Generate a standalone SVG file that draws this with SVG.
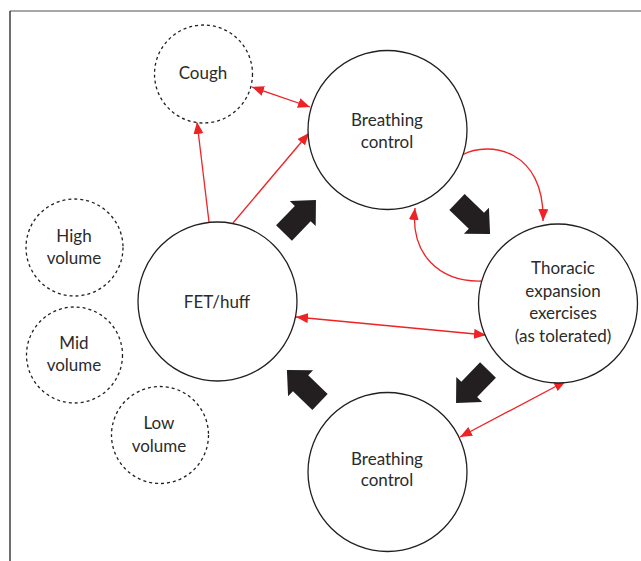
<svg xmlns="http://www.w3.org/2000/svg" width="641" height="561" viewBox="0 0 641 561">
<defs>
<style>
.node{fill:#fff;stroke:#231f20;stroke-width:1.3}
.dash{fill:#fff;stroke:#231f20;stroke-width:1.3;stroke-dasharray:3 3}
.lbl{font-family:Lato,"Open Sans",sans-serif;font-size:17px;fill:#2b2b2b;text-anchor:middle}
.red{fill:none;stroke:#ee2326;stroke-width:1.3}
.blk{fill:#231f20}
</style>
<marker id="ah" viewBox="0 0 12 10" refX="12" refY="5" markerWidth="12" markerHeight="10" markerUnits="userSpaceOnUse" orient="auto-start-reverse">
<path d="M0,0 L12,5 L0,10 z" fill="#ee2326"/>
</marker>
<polygon id="bigarrow" points="0,-11 27,-11 27,-18 46,0 27,18 27,11 0,11"/>
</defs>
<rect width="641" height="561" fill="#fff"/>
<g id="frame">
<line x1="10" y1="11" x2="641" y2="11" stroke="#8a8a8a" stroke-width="1.5"/>
<line x1="10" y1="11" x2="10" y2="561" stroke="#231f20" stroke-width="1.3"/>
</g>
<g id="connectors">
<line class="red" x1="252" y1="87" x2="310" y2="107" marker-start="url(#ah)" marker-end="url(#ah)"/>
<line class="red" x1="209" y1="222" x2="197" y2="122" marker-end="url(#ah)"/>
<line class="red" x1="233" y1="223" x2="309" y2="133" marker-end="url(#ah)"/>
<path class="red" d="M462,155 C490,140 545,150 543,221" marker-end="url(#ah)"/>
<path class="red" d="M481,281 C440,282 410,255 415,208" marker-end="url(#ah)"/>
<line class="red" x1="296" y1="317" x2="486" y2="335" marker-start="url(#ah)" marker-end="url(#ah)"/>
<line class="red" x1="460" y1="437" x2="566" y2="381" marker-start="url(#ah)" marker-end="url(#ah)"/>
</g>
<g id="flow-arrows" class="blk">
<use href="#bigarrow" transform="translate(284,233) rotate(-46)"/>
<use href="#bigarrow" transform="translate(457,202) rotate(44)"/>
<use href="#bigarrow" transform="translate(488,370) rotate(134)"/>
<use href="#bigarrow" transform="translate(320,402) rotate(-136)"/>
</g>
<g id="cough">
<circle class="dash" cx="203.5" cy="74" r="49"/>
<text class="lbl" x="203" y="79">Cough</text>
</g>
<g id="breathing-control-top">
<circle class="node" cx="387.5" cy="130" r="79.5"/>
<text class="lbl" x="387" y="126">Breathing</text>
<text class="lbl" x="387" y="148">control</text>
</g>
<g id="fet-huff">
<circle class="node" cx="217.5" cy="301.5" r="79.5"/>
<text class="lbl" x="217" y="308">FET/huff</text>
</g>
<g id="thoracic">
<circle class="node" cx="558" cy="303.5" r="79.5"/>
<text class="lbl" x="563" y="274">Thoracic</text>
<text class="lbl" x="563" y="297">expansion</text>
<text class="lbl" x="563" y="319">exercises</text>
<text class="lbl" x="563" y="342">(as tolerated)</text>
</g>
<g id="breathing-control-bottom">
<circle class="node" cx="387.5" cy="472" r="79.5"/>
<text class="lbl" x="387" y="465">Breathing</text>
<text class="lbl" x="387" y="486">control</text>
</g>
<g id="high-volume">
<circle class="dash" cx="74.5" cy="247.5" r="48.5"/>
<text class="lbl" x="74" y="242">High</text>
<text class="lbl" x="74" y="264">volume</text>
</g>
<g id="mid-volume">
<circle class="dash" cx="74.5" cy="355" r="48"/>
<text class="lbl" x="74" y="349">Mid</text>
<text class="lbl" x="74" y="371">volume</text>
</g>
<g id="low-volume">
<circle class="dash" cx="160" cy="435" r="48.5"/>
<text class="lbl" x="159" y="429">Low</text>
<text class="lbl" x="159" y="452">volume</text>
</g>
</svg>
